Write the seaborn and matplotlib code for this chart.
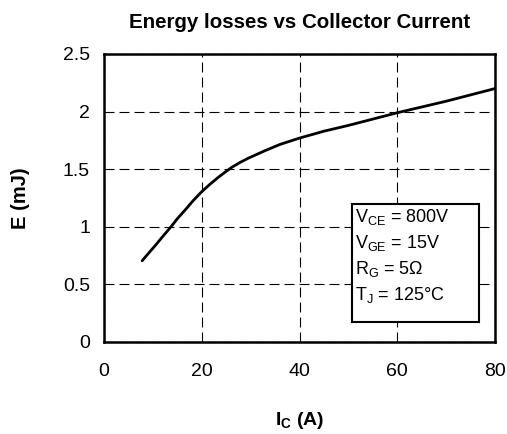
import matplotlib
matplotlib.use("Agg")
import matplotlib.pyplot as plt
from matplotlib.patches import Rectangle
import seaborn as sns
import pandas as pd

# values
current = [7.8, 9, 10.4, 12, 13.7, 15, 16.6, 18.3, 20, 21.7, 23.4, 24.8, 26.1, 27.8, 29.5,
           32.9, 36, 40, 45, 50, 55, 60, 65, 70, 75, 80]
energy = [0.705, 0.765, 0.833, 0.915, 1.00, 1.07, 1.146, 1.23, 1.305, 1.37, 1.43, 1.475,
          1.515, 1.558, 1.595, 1.66, 1.715, 1.77, 1.83, 1.88, 1.935, 1.99, 2.04, 2.09,
          2.145, 2.20]

x_ticks = [0, 20, 40, 60, 80]
y_ticks = [0, 0.5, 1, 1.5, 2, 2.5]
y_tick_labels = ["0", "0.5", "1", "1.5", "2", "2.5"]

conditions = ["$\\mathregular{V_{CE}}$ = 800V",
              "$\\mathregular{V_{GE}}$ = 15V",
              "$\\mathregular{R_G}$ = 5\u03a9",
              "$\\mathregular{T_J}$ = 125\u00b0C"]

sns.set_style("white")
plt.rcParams["font.family"] = ["Liberation Sans", "DejaVu Sans"]
plt.rcParams["mathtext.fontset"] = "custom"
plt.rcParams["mathtext.rm"] = "Liberation Sans"
plt.rcParams["mathtext.bf"] = "Liberation Sans:bold"
for k in ["text.color", "axes.labelcolor", "xtick.color", "ytick.color"]:
    plt.rcParams[k] = "black"

df = pd.DataFrame({"I": current, "E": energy})

fig = plt.figure(figsize=(5.07, 4.34), dpi=100)
ax = fig.add_axes([104 / 507, 1 - 342 / 434, (495 - 104) / 507, (342 - 54) / 434])

sns.lineplot(data=df, x="I", y="E", ax=ax, color="black", linewidth=2)

ax.set_xlim(0, 80)
ax.set_ylim(0, 2.5)
ax.set_xticks(x_ticks)
ax.set_yticks(y_ticks)
ax.set_yticklabels(y_tick_labels)
ax.grid(True, color="black", linestyle=(0, (9, 4.5)), linewidth=0.8)
for s in ax.spines.values():
    s.set_color("black")
    s.set_linewidth(1.8)
ax.tick_params(direction="out", length=5, width=1, colors="black", labelsize=14, pad=5)
ax.tick_params(axis="x", pad=10)

ax.set_xlabel("$\\mathbf{I_C}$ (A)", fontsize=14, fontweight="bold", labelpad=22)
ax.set_ylabel("E (mJ)", fontsize=14.5, fontweight="bold", labelpad=24)
ax.set_title("Energy losses vs Collector Current", fontsize=14.8, fontweight="bold", pad=19)

# condition box
ax.add_patch(Rectangle((50.7, 0.176), 26.1, 1.022, facecolor="white", edgecolor="black",
                       linewidth=1.5, zorder=3))
ax.text(51.3, 1.175, "\n".join(conditions), fontsize=13, va="top", ha="left",
        linespacing=1.4, zorder=4)

fig.savefig("out.png", dpi=100)
